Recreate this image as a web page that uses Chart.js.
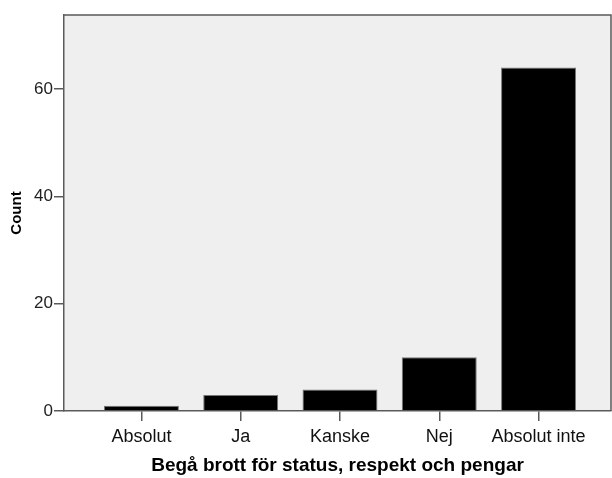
<!DOCTYPE html>
<html>
<head>
<meta charset="utf-8">
<script src="https://cdn.jsdelivr.net/npm/chart.js@4/dist/chart.umd.min.js"></script>
<style>
  html, body { margin: 0; padding: 0; background: #fff; }
  #wrap { width: 612px; height: 478px; }
</style>
</head>
<body>
<div id="wrap"><canvas id="chart" width="612" height="478"></canvas></div>
<script>
// --- Data --- //
const categories = ['Absolut', 'Ja', 'Kanske', 'Nej', 'Absolut inte'];
const counts = [1, 3, 4, 10, 64];
const yTicks = [0, 20, 40, 60];
const xTitle = 'Begå brott för status, respekt och pengar';
const yTitle = 'Count';

const font = "Arial, 'Liberation Sans', sans-serif";
const axisColor = '#5a5a5a';

// plot background + frame, SPSS style
const plotFrame = {
    id: 'plotFrame',
    beforeDraw(chart) {
        const { ctx, chartArea: a } = chart;
        ctx.save();
        ctx.fillStyle = '#efefef';
        ctx.fillRect(a.left, a.top, a.right - a.left, a.bottom - a.top);
        ctx.strokeStyle = axisColor;
        ctx.lineWidth = 1.5;
        ctx.beginPath();
        ctx.moveTo(a.left, a.top);
        ctx.lineTo(a.right, a.top);
        ctx.lineTo(a.right, a.bottom);
        ctx.stroke();
        ctx.restore();
    }
};

const ctx = document.getElementById('chart').getContext('2d');
new Chart(ctx, {
    type: 'bar',
    data: {
        datasets: [{
            data: counts.map((v, i) => ({ x: i + 1, y: v })),
            backgroundColor: '#000000',
            borderColor: '#777777',
            borderWidth: 1,
            categoryPercentage: 1,
            barPercentage: 0.755
        }]
    },
    options: {
        responsive: false,
        animation: false,
        layout: { padding: { top: 15, right: 1, left: 0, bottom: 0 } },
        plugins: {
            legend: { display: false },
            tooltip: { enabled: false }
        },
        scales: {
            x: {
                type: 'linear',
                offset: false,
                min: 0.22,
                max: 5.73,
                afterFit: s => { s.height = 67; },
                afterBuildTicks: s => { s.ticks = categories.map((c, i) => ({ value: i + 1 })); },
                ticks: {
                    callback: v => categories[v - 1],
                    color: '#111',
                    font: { family: font, size: 18 },
                    padding: 5,
                    maxRotation: 0,
                    autoSkip: false
                },
                grid: { offset: false, drawOnChartArea: false, tickLength: 10, color: axisColor, lineWidth: 1.5 },
                border: { display: true, color: axisColor, width: 1.5 },
                title: {
                    display: true,
                    text: xTitle,
                    color: '#000',
                    font: { family: font, size: 19, weight: 'bold' },
                    padding: { top: 1, bottom: 1 }
                }
            },
            y: {
                min: 0,
                max: 73.8,
                afterFit: s => { s.width = 64; },
                afterBuildTicks: s => { s.ticks = yTicks.map(v => ({ value: v })); },
                ticks: {
                    color: '#222',
                    font: { family: font, size: 17 },
                    padding: 1
                },
                grid: { drawOnChartArea: false, tickLength: 10, color: axisColor, lineWidth: 1.5 },
                border: { display: true, color: axisColor, width: 1.5 },
                title: {
                    display: true,
                    text: yTitle,
                    color: '#000',
                    font: { family: font, size: 15, weight: 'bold' },
                    padding: { top: 8, bottom: 0 }
                }
            }
        }
    },
    plugins: [plotFrame]
});
</script>
</body>
</html>
